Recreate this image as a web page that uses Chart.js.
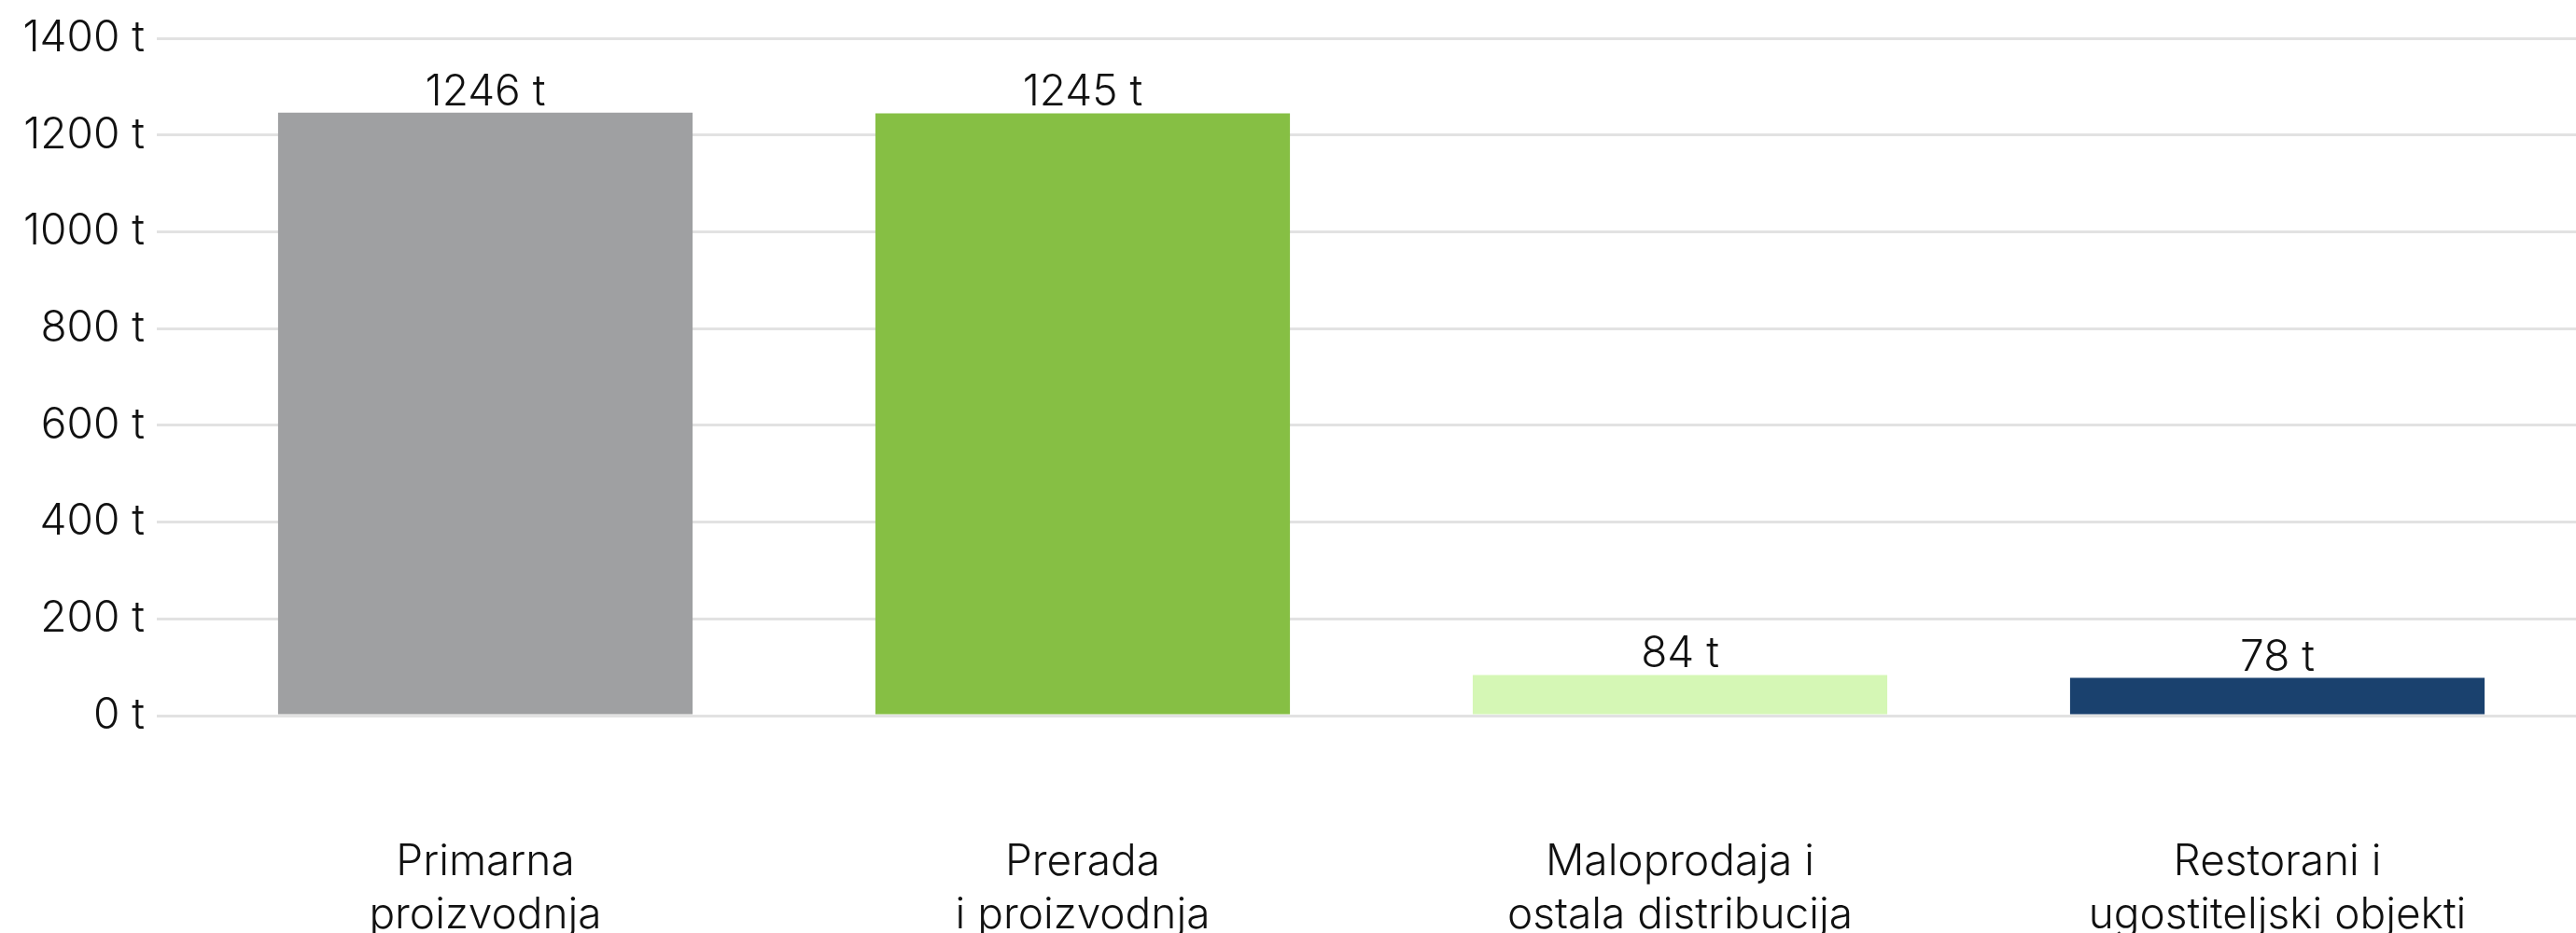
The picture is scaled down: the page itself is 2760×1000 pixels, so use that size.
<!DOCTYPE html>
<html>
<head>
<meta charset="utf-8">
<script src="https://cdn.jsdelivr.net/npm/chart.js@4.4.1/dist/chart.umd.min.js"></script>
<style>
  body { margin: 0; background: #fff; overflow: hidden; }
  #wrap { width: 2760px; height: 1000px; position: relative; }
</style>
</head>
<body>
<div id="wrap"><canvas id="barChart"></canvas></div>
<script>
var categories = [
    ["Primarna", "proizvodnja"],
    ["Prerada", "i proizvodnja"],
    ["Maloprodaja i", "ostala distribucija"],
    ["Restorani i", "ugostiteljski objekti"]
];
var values = [1246, 1245, 84, 78];
var barColors = ["#9fa0a2", "#86bf44", "#d5f7b5", "#1a416e"];
var yTicks = [0, 200, 400, 600, 800, 1000, 1200, 1400];

var fontFamily = "Inter, Lato, 'Open Sans', sans-serif";

// simple value labels above bars (no datalabels plugin available offline)
var valueLabels = {
    id: "valueLabels",
    afterDatasetsDraw: function (chart) {
        var ctx = chart.ctx;
        var meta = chart.getDatasetMeta(0);
        ctx.save();
        ctx.font = "300 46px " + fontFamily;
        ctx.fillStyle = "#111";
        ctx.textAlign = "center";
        ctx.textBaseline = "alphabetic";
        meta.data.forEach(function (bar, i) {
            ctx.fillText(values[i] + " t", bar.x, bar.y - 8);
        });
        ctx.restore();
    },
};

var ctx = document.getElementById("barChart").getContext("2d");
new Chart(ctx, {
    type: "bar",
    data: {
        labels: categories,
        datasets: [
            {
                data: values,
                backgroundColor: barColors,
                borderWidth: 0,
                barPercentage: 0.694,
                categoryPercentage: 1,
            },
        ],
    },
    options: {
        responsive: true,
        maintainAspectRatio: false,
        animation: false,
        layout: { padding: { top: 41, right: 0, left: 0, bottom: 0 } },
        plugins: {
            legend: { display: false },
            tooltip: { enabled: false },
        },
        scales: {
            x: {
                grid: { display: false, drawTicks: false },
                border: { display: false },
                ticks: {
                    color: "#111",
                    padding: 128,
                    maxRotation: 0,
                    autoSkip: false,
                    font: { family: fontFamily, size: 46, weight: 300, lineHeight: 1.25 },
                },
                afterFit: function (scale) {
                    scale.height = 233;
                    scale.paddingLeft = 0;
                    scale.paddingRight = 0;
                },
            },
            y: {
                min: 0,
                max: 1400,
                afterBuildTicks: function (scale) {
                    scale.ticks = yTicks.map((v) => ({ value: v }));
                },
                grid: {
                    color: "#e2e2e2",
                    lineWidth: 3,
                    drawTicks: true,
                    tickLength: 32,
                },
                border: { display: false },
                ticks: {
                    color: "#111",
                    padding: 13,
                    font: { family: fontFamily, size: 46, weight: 300 },
                    callback: function (v) {
                        return v + " t";
                    },
                },
                afterFit: function (scale) {
                    scale.width = 200;
                },
            },
        },
    },
    plugins: [valueLabels],
});
</script>
</body>
</html>
